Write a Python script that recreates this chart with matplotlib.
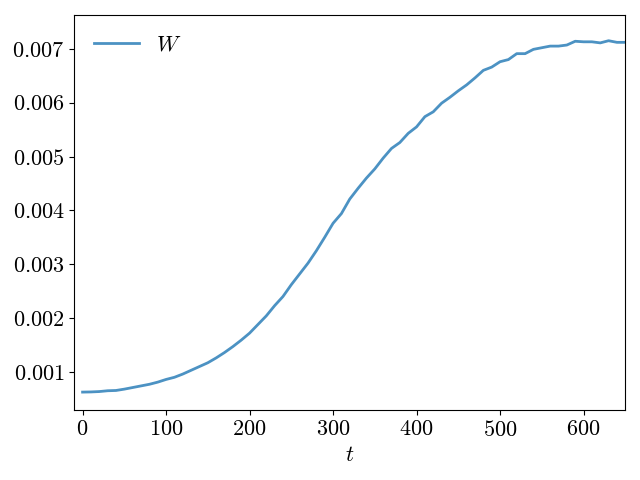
import matplotlib
matplotlib.use("Agg")
import matplotlib.pyplot as plt

plt.rcParams['font.family'] = 'serif'
plt.rcParams['font.serif'] = ['cmr10']
plt.rcParams['mathtext.fontset'] = 'cm'
plt.rcParams['axes.formatter.use_mathtext'] = True
plt.rcParams['font.size'] = 16

t = list(range(0, 660, 10))
W = [0.000625, 0.000628, 0.000635, 0.00065, 0.000655, 0.00068, 0.00071, 0.00074,
     0.00077, 0.00081, 0.00086, 0.00090, 0.00096, 0.00103, 0.00110, 0.00117,
     0.00126, 0.00136, 0.00147, 0.00159, 0.00172, 0.00188, 0.00204, 0.00223,
     0.00240, 0.00262, 0.00282, 0.00302, 0.00325, 0.00350, 0.00376, 0.00394,
     0.00421, 0.00441, 0.00460, 0.00477, 0.00497, 0.00515, 0.00526, 0.00543,
     0.00555, 0.00574, 0.00583, 0.00599, 0.00610, 0.00622, 0.00633, 0.00646,
     0.00660, 0.00666, 0.00676, 0.00680, 0.00691, 0.00691, 0.00699, 0.00702,
     0.00705, 0.00705, 0.00707, 0.00714, 0.00713, 0.00713, 0.00711, 0.00715,
     0.00712, 0.00712]

fig, ax = plt.subplots(figsize=(6.4, 4.8), dpi=100)
ax.plot(t, W, color='tab:blue', alpha=0.8, lw=2, label='$W$')
ax.set_xlim(-10, 650)
ax.set_ylim(0.000294, 0.00763)
ax.set_xlabel('$t$')
ax.legend(loc='upper left', frameon=False)
fig.subplots_adjust(left=0.116, right=0.977, top=0.969, bottom=0.146)
fig.savefig('out.png')
